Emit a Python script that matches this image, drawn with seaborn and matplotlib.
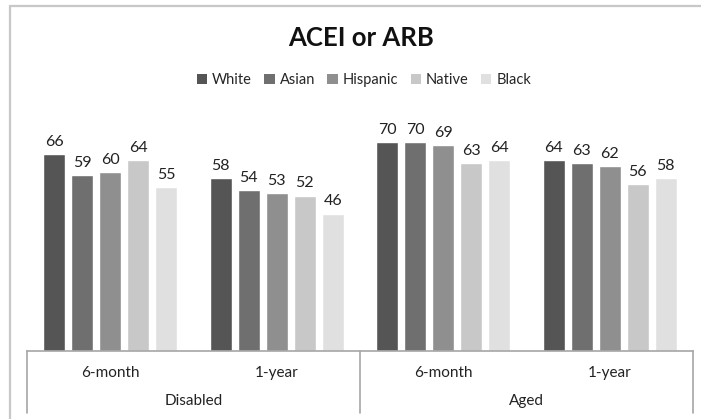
import matplotlib
matplotlib.use("Agg")
import matplotlib.pyplot as plt
import matplotlib.transforms as mtransforms
from matplotlib.patches import Rectangle, Patch
import pandas as pd
import seaborn as sns

# Chart data
title = "ACEI or ARB"
races = ["White", "Asian", "Hispanic", "Native", "Black"]
populations = ["Disabled", "Aged"]
periods = ["6-month", "1-year"]
disabled_6m = [66, 59, 60, 64, 55]
disabled_1y = [58, 54, 53, 52, 46]
aged_6m = [70, 70, 69, 63, 64]
aged_1y = [64, 63, 62, 56, 58]
colors = ["#555555", "#6f6f6f", "#8f8f8f", "#c8c8c8", "#e0e0e0"]

groups = [f"{p} {t}" for p in populations for t in periods]
series = [disabled_6m, disabled_1y, aged_6m, aged_1y]
rows = []
for g, vals in zip(groups, series):
    for r, v in zip(races, vals):
        rows.append({"group": g, "race": r, "value": v})
df = pd.DataFrame(rows)

sns.set_theme(style="white")
plt.rcParams["font.family"] = ["Lato", "DejaVu Sans"]

W, H = 701, 419
fig = plt.figure(figsize=(W / 100, H / 100), dpi=100)
ax_left, ax_right, ax_bottom_px, ax_top_px = 27, 693, 351, 112.6
ax = fig.add_axes([ax_left / W, 1 - ax_bottom_px / H,
                   (ax_right - ax_left) / W, (ax_bottom_px - ax_top_px) / H])

sns.barplot(data=df, x="group", y="value", hue="race", order=groups,
            hue_order=races, palette=colors, width=0.84, gap=0.2,
            saturation=1, ax=ax, legend=False)

ax.set_xlim(-0.5, len(groups) - 0.5)
ax.set_ylim(0, 80)
ax.set_xlabel("")
ax.set_ylabel("")
ax.set_xticks([])
ax.set_yticks([])
for side in ["left", "right", "top"]:
    ax.spines[side].set_visible(False)
ax.spines["bottom"].set_color("#a6a6a6")
ax.spines["bottom"].set_linewidth(1.2)

for cont in ax.containers:
    ax.bar_label(cont, fmt="%d", padding=4, fontsize=11.5, color="#222222")

# Two-level category axis
trans = mtransforms.blended_transform_factory(ax.transData, fig.transFigure)
def fy(px):
    return 1 - px / H

for i, g in enumerate(groups):
    ax.text(i, fy(373), periods[i % 2], transform=trans, ha="center",
            va="center", fontsize=11, color="#222222")
for j, p in enumerate(populations):
    ax.text(2 * j + 0.5, fy(401), p, transform=trans, ha="center",
            va="center", fontsize=11, color="#222222")
for xd in [-0.5, 1.5, 3.5]:
    ax.plot([xd, xd], [fy(351), fy(413)], transform=trans, color="#a6a6a6",
            lw=1.2, clip_on=False)

# Title and legend
fig.text(361 / W, fy(38), title, ha="center", va="center",
         fontsize=18.5, fontweight="bold", color="#111111")
handles = [Patch(facecolor=c, edgecolor="none", label=r)
           for c, r in zip(colors, races)]
fig.legend(handles=handles, loc="center", bbox_to_anchor=(364 / W, fy(80)),
           ncol=5, frameon=False, fontsize=10.5, handlelength=0.7,
           handleheight=0.7, handletextpad=0.35, columnspacing=0.85)

# Chart-area border
fig.add_artist(Rectangle((10 / W, -0.2), 2, 1.2 - 6 / H,
                         transform=fig.transFigure, fill=False,
                         edgecolor="#c8c8c8", lw=1.6))

fig.savefig("out.png", dpi=100, facecolor="white")
